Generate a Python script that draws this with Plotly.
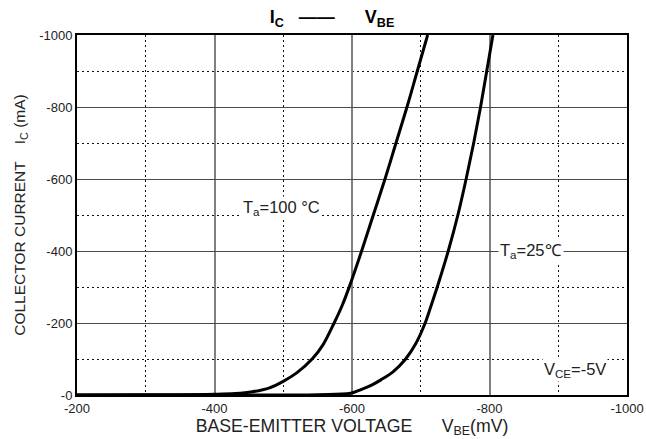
import plotly.graph_objects as go

# Data (mV, mA)
vbe_100 = [-200, -300, -400, -430, -455, -480, -500, -520, -543, -558, -574, -586, -596, -614, -631, -648, -664, -680, -695, -710]
ic_100 = [0, -0.5, -2, -4, -9, -20, -38, -62, -102, -140, -200, -250, -300, -400, -500, -600, -700, -800, -900, -1000]

vbe_25 = [-200, -400, -550, -598, -613, -630, -642, -660, -678, -692, -706, -715, -724, -740, -754, -766, -777, -787, -796, -805]
ic_25 = [0, 0, -1, -5, -15, -29, -42, -65, -100, -140, -198, -248, -300, -400, -500, -600, -700, -800, -900, -1000]

x_ticks = [-200, -400, -600, -800, -1000]
x_labels = ["-200", "-400", "-600", "-800", "-1000"]
y_ticks = [0, -200, -400, -600, -800, -1000]
y_labels = ["-0", "-200", "-400", "-600", "-800", "-1000"]

fig = go.Figure()
fig.add_trace(go.Scatter(x=vbe_100, y=ic_100, mode="lines",
                         line=dict(color="black", width=3, shape="spline", smoothing=1.0)))
fig.add_trace(go.Scatter(x=vbe_25, y=ic_25, mode="lines",
                         line=dict(color="black", width=3, shape="spline", smoothing=1.0)))

font = "Liberation Sans, Arial, sans-serif"
tcol = "#222"

fig.update_layout(
    width=646, height=439,
    margin=dict(l=77, r=19, t=35, b=44),
    paper_bgcolor="white", plot_bgcolor="white",
    showlegend=False,
    font=dict(family=font, size=13, color=tcol),
    title=dict(text="<b>I<sub>C</sub>   ——      V<sub>BE</sub></b>", x=0.514, xanchor="center",
               y=0.962, yanchor="middle", font=dict(family=font, size=18, color="black")),
)

fig.update_xaxes(
    range=[-200, -1000], tickvals=x_ticks, ticktext=x_labels, automargin=False,
    showline=True, mirror=True, linecolor="black", linewidth=2,
    showgrid=True, gridcolor="#808080", gridwidth=1.6,
    zeroline=False, ticks="", ticklen=0,
    tickfont=dict(family=font, size=13, color=tcol),
    minor=dict(dtick=100, showgrid=True, gridcolor="#111", griddash="1.5px,3.5px", gridwidth=1.2),
    title=dict(text="BASE-EMITTER VOLTAGE      V<sub>BE</sub>(mV)", standoff=2,
               font=dict(family=font, size=17.7, color=tcol)),
)
fig.update_yaxes(
    range=[0, -1000], tickvals=y_ticks, ticktext=y_labels, automargin=False,
    showline=True, mirror=True, linecolor="black", linewidth=2,
    showgrid=True, gridcolor="#4a4a4a", gridwidth=1.2,
    zeroline=False, ticks="", ticklen=0,
    tickfont=dict(family=font, size=13, color=tcol),
    minor=dict(dtick=100, showgrid=True, gridcolor="#111", griddash="1.5px,3.5px", gridwidth=1.2),
    title=dict(text="COLLECTOR CURRENT    I<sub>C</sub> (mA)", standoff=10,
               font=dict(family=font, size=15.5, color=tcol)),
)

fig.add_annotation(x=-497, y=-520, text="T<sub>a</sub>=100 °C", showarrow=False,
                   bgcolor="white", font=dict(family=font, size=16.5, color=tcol))
fig.add_annotation(x=-861, y=-400, text="T<sub>a</sub>=25℃", showarrow=False,
                   bgcolor="white", font=dict(family=font, size=16.5, color=tcol))
fig.add_annotation(x=-924, y=-69, text="V<sub>CE</sub>=-5V", showarrow=False,
                   bgcolor="white", font=dict(family=font, size=16.5, color=tcol))

fig.write_html("out.html")
